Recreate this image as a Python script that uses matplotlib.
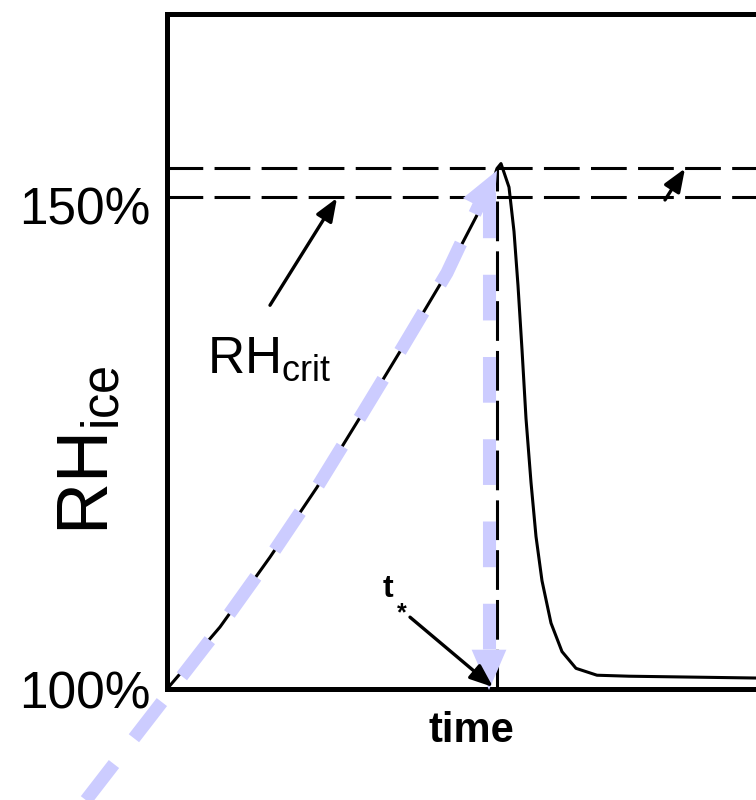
import matplotlib.pyplot as plt

plt.rcParams['font.family'] = ['Liberation Sans', 'DejaVu Sans']
plt.rcParams['mathtext.fontset'] = 'custom'
plt.rcParams['mathtext.rm'] = 'Liberation Sans'
plt.rcParams['mathtext.it'] = 'Liberation Sans:italic'
plt.rcParams['mathtext.bf'] = 'Liberation Sans:bold'

# RH_ice trace: time (arbitrary units) vs RH over ice (%)
rise_t = [0.0, 0.53, 1.03, 1.50, 1.93, 2.36, 2.80, 3.23, 3.30]
rise_rh = [100.0, 106.3, 113.4, 120.5, 127.6, 134.8, 142.3, 150.7, 152.9]
fall_t = [3.34, 3.42, 3.47, 3.51, 3.55, 3.59, 3.64, 3.69, 3.75, 3.84, 3.95, 4.09, 4.30, 4.62, 6.0]
fall_rh = [153.4, 151.0, 146.5, 141.0, 134.5, 127.5, 121.0, 115.5, 111.0, 106.7, 103.8, 102.1, 101.4, 101.3, 101.1]

# hand-drawn guide arrow that follows the rising branch
guide_t = [-0.81, 0.05, 0.53, 1.03, 1.50, 1.93, 2.36, 2.80, 3.12]
guide_rh = [88.7, 100.0, 106.3, 113.4, 120.5, 127.6, 134.8, 142.3, 149.2]

rh_crit = 150.0
rh_peak = 152.9
t_star = 3.30
tick_pos = [100, 149.1]
tick_labels = ['100%', '150%']

lav = '#ccccff'

fig = plt.figure(figsize=(7.56, 8), dpi=100)
ax = fig.add_axes([167 / 756, 111 / 800, 600 / 756, 675 / 800])
ax.set_xlim(0, 6)
ax.set_ylim(100, 168.6)

# model curve
ax.plot(rise_t + fall_t, rise_rh + fall_rh, color='k', lw=2.2, zorder=3)

# threshold lines
ax.axhline(rh_crit, color='k', lw=2.2, dashes=(11.7, 3.7), zorder=2)
ax.axhline(rh_peak, color='k', lw=2.2, dashes=(11.7, 3.7), zorder=2)
ax.plot([t_star, t_star], [100, rh_peak], color='k', lw=2.2, dashes=(13, 3.3), zorder=2)

# lavender guide arrows
head = dict(arrowstyle='-|>,head_length=2.9,head_width=1.25', mutation_scale=10,
            color=lav, lw=0, shrinkA=0, shrinkB=0)
ax.plot(guide_t, guide_rh, color=lav, lw=9.4, dashes=(3.5, 2.5),
        clip_on=False, zorder=4)
ax.annotate('', xy=(3.30, 152.7), xytext=(guide_t[-1], guide_rh[-1]),
            arrowprops=head, zorder=4, annotation_clip=False)
ax.plot([3.22, 3.22], [150.5, 103.9], color=lav, lw=9.4, dashes=(3.5, 2.8), zorder=4)
ax.annotate('', xy=(3.22, 99.9), xytext=(3.22, 103.9), arrowprops=head,
            zorder=4, annotation_clip=False)

# black pointer arrows
blk = dict(arrowstyle='-|>,head_length=1.4,head_width=0.55', mutation_scale=10,
           color='k', lw=2.4, shrinkA=0, shrinkB=0)
ax.annotate('', xy=(1.70, 149.9), xytext=(1.03, 139.0), arrowprops=blk, zorder=5)
ax.annotate('', xy=(3.26, 100.2), xytext=(2.43, 107.3), arrowprops=blk, zorder=5,
            annotation_clip=False)
ax.annotate('', xy=(5.18, 152.9), xytext=(4.98, 149.7), arrowprops=blk, zorder=5)

ax.text(0.40, 132.2, r'$\mathrm{RH}_{\mathrm{crit}}$', fontsize=37, va='baseline', ha='left')
ax.text(2.16, 109.3, 't', fontsize=23, fontweight='bold', va='baseline', ha='left')
ax.text(2.30, 107.0, '*', fontsize=18, fontweight='bold', va='baseline', ha='left')

for s in ax.spines.values():
    s.set_linewidth(3.6)
ax.set_xticks([])
ax.set_yticks(tick_pos, tick_labels, fontsize=37)
ax.tick_params(axis='y', length=0, pad=12)

fig.text(90 / 756, 1 - 450 / 800, r'$\mathrm{RH}_{\mathrm{ice}}$', rotation=90,
         fontsize=52, ha='center', va='center')
fig.text(471 / 756, 1 - 731 / 800, 'time', fontsize=30, fontweight='bold',
         ha='center', va='center')

fig.savefig('out.png', dpi=100)
